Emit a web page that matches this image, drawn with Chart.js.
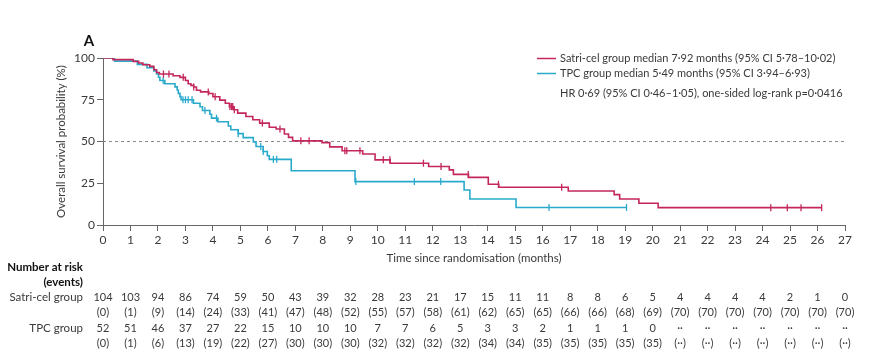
<!DOCTYPE html>
<html>
<head>
<meta charset="utf-8">
<script src="https://cdn.jsdelivr.net/npm/chart.js@4.4.1/dist/chart.umd.min.js"></script>
<style>
  html, body { margin: 0; padding: 0; background: #fff; }
  #wrap { width: 869px; height: 359px; }
</style>
</head>
<body>
<div id="wrap"><canvas id="km" width="869" height="359"></canvas></div>
<script>
// Kaplan-Meier steps (time in months, survival %)
var satriTimes = [0, 0.36, 1.1, 1.3, 1.45, 1.7, 1.85, 1.95, 2.05, 2.55, 2.8, 3.0, 3.1, 3.2, 3.3, 3.4, 3.55, 3.85, 4.0, 4.25, 4.45, 4.6, 4.75, 4.9, 5.2, 5.45, 5.7, 6.05, 6.3, 6.6, 6.75, 6.9, 7.97, 8.25, 8.7, 9.45, 9.9, 10.45, 11.85, 12.6, 12.75, 13.3, 14.02, 14.4, 16.93, 18.6, 18.8, 19.5, 20.2, 26.15];
var satriSurv  = [100, 99.0, 98.0, 97.0, 96.0, 95.0, 93.0, 91.3, 90.4, 89.4, 88.4, 86.5, 84.6, 83.6, 82.6, 80.7, 79.7, 78.7, 76.8, 74.8, 72.9, 70.9, 69.0, 67.0, 65.0, 63.0, 61.0, 58.5, 57.5, 54.5, 52.5, 50.4, 49.3, 46.8, 44.5, 42.5, 39.0, 37.0, 35.0, 33.0, 30.3, 28.5, 24.4, 22.6, 20.4, 18.2, 15.6, 13.0, 10.4, 10.4];
var satriCensor = [2.2, 2.4, 2.92, 3.3, 3.83, 4.08, 4.62, 4.68, 4.72, 4.78, 5.8, 6.44, 7.2, 7.5, 8.8, 8.87, 9.35, 10.2, 10.44, 11.66, 12.3, 13.29, 14.39, 16.69, 24.3, 24.9, 25.4, 26.15];

var tpcTimes = [0, 0.42, 1.25, 1.6, 1.85, 1.95, 2.02, 2.07, 2.25, 2.62, 2.7, 2.74, 2.8, 2.84, 3.29, 3.53, 3.62, 3.89, 3.95, 4.18, 4.56, 4.65, 4.92, 5.1, 5.47, 5.57, 5.83, 5.98, 6.05, 6.85, 9.17, 13.14, 13.35, 15.03, 19.05];
var tpcSurv  = [100, 98.1, 96.2, 94.2, 92.3, 90.4, 88.5, 86.5, 84.6, 82.7, 80.8, 78.8, 76.9, 75.0, 72.9, 70.8, 68.6, 66.3, 64.0, 61.8, 59.3, 57.0, 54.7, 52.3, 49.8, 47.0, 44.0, 41.5, 39.3, 32.5, 26.0, 21.0, 15.6, 10.5, 10.5];
var tpcCensor = [2.19, 2.91, 3.0, 3.1, 3.24, 3.71, 4.13, 4.92, 5.74, 5.83, 6.2, 6.32, 9.2, 11.33, 12.29, 16.23, 19.05];

// number at risk table
var riskMonths = [0,1,2,3,4,5,6,7,8,9,10,11,12,13,14,15,16,17,18,19,20,21,22,23,24,25,26,27];
var satriRisk   = [104,103,94,86,74,59,50,43,39,32,28,23,21,17,15,11,11,8,8,6,5,4,4,4,4,2,1,0];
var satriEvents = [0,1,9,14,24,33,41,47,48,52,55,57,58,61,62,65,65,66,66,68,69,70,70,70,70,70,70,70];
var tpcRisk     = [52,51,46,37,27,22,15,10,10,10,7,7,6,5,3,3,2,1,1,1,0,'··','··','··','··','··','··','··'];
var tpcEvents   = [0,1,6,13,19,22,27,30,30,30,32,32,32,32,34,34,35,35,35,35,35,'··','··','··','··','··','··','··'];

var legendLabels = ['Satri-cel group median 7·92 months (95% CI 5·78–10·02)', 'TPC group median 5·49 months (95% CI 3·94–6·93)'];
var hrText = 'HR 0·69 (95% CI 0·46–1·05), one-sided log-rank p=0·0416';

var RED = '#c4285a';
var BLUE = '#2aaacb';
var TXT = '#3a3a3a';
var FONT = 'Lato';

// value of step curve at time t
function survAt(times, surv, t) {
    var v = surv[0];
    for (var i = 0; i < times.length; i++) {
        if (times[i] <= t) v = surv[i];
    }
    return v;
}

function toPoints(times, surv) {
    return times.map(function(t, i) { return {x: t, y: surv[i]}; });
}

function censorPoints(cens, times, surv) {
    return cens.map(function(t) { return {x: t, y: survAt(times, surv, t)}; });
}

Chart.defaults.font.family = FONT;
Chart.defaults.color = TXT;

var extras = {
    id: 'extras',
    afterDraw: function(chart) {
        var ctx = chart.ctx;
        var xs = chart.scales.x;
        ctx.save();

        // panel letter
        ctx.fillStyle = '#111';
        ctx.font = 'bold 15px ' + FONT;
        ctx.textAlign = 'center';
        ctx.textBaseline = 'middle';
        ctx.fillText('A', 89, 41);

        // legend
        ctx.font = '11px ' + FONT;
        ctx.textAlign = 'left';
        ctx.fillStyle = TXT;
        var cols = [RED, BLUE];
        var ys = [58.5, 73.5];
        for (var i = 0; i < legendLabels.length; i++) {
            ctx.strokeStyle = cols[i];
            ctx.lineWidth = 1.5;
            ctx.beginPath();
            ctx.moveTo(537, ys[i]);
            ctx.lineTo(556, ys[i]);
            ctx.stroke();
            ctx.fillText(legendLabels[i], 560, ys[i]);
        }
        ctx.fillText(hrText, 560, 93);

        // number at risk
        ctx.textAlign = 'right';
        ctx.font = 'bold 11.5px ' + FONT;
        ctx.fillStyle = '#111';
        ctx.fillText('Number at risk', 83, 267);
        ctx.fillText('(events)', 83, 282);
        ctx.font = '11.5px ' + FONT;
        ctx.fillStyle = TXT;
        ctx.fillText('Satri-cel group', 83, 297);
        ctx.fillText('TPC group', 83, 328);

        ctx.textAlign = 'center';
        ctx.font = '11px ' + FONT;
        riskMonths.forEach(function(m, i) {
            var x = xs.getPixelForValue(m);
            ctx.fillText(String(satriRisk[i]), x, 297);
            ctx.fillText('(' + satriEvents[i] + ')', x, 312.5);
            ctx.fillText(String(tpcRisk[i]), x, 328);
            ctx.fillText('(' + tpcEvents[i] + ')', x, 343.5);
        });
        ctx.restore();
    }
};

var ctx = document.getElementById('km').getContext('2d');
var kmChart = new Chart(ctx, {
    type: 'line',
    data: {
        datasets: [{
            label: 'Satri-cel group',
            data: toPoints(satriTimes, satriSurv),
            stepped: 'before',
            borderColor: RED,
            borderWidth: 1.6,
            pointRadius: 0,
            fill: false
        }, {
            label: 'TPC group',
            data: toPoints(tpcTimes, tpcSurv),
            stepped: 'before',
            borderColor: BLUE,
            borderWidth: 1.6,
            pointRadius: 0,
            fill: false
        }, {
            type: 'scatter',
            label: 'Satri-cel censored',
            data: censorPoints(satriCensor, satriTimes, satriSurv),
            showLine: false,
            pointStyle: 'line',
            rotation: 90,
            pointRadius: 3.5,
            borderColor: RED,
            backgroundColor: RED,
            borderWidth: 1.3
        }, {
            type: 'scatter',
            label: 'TPC censored',
            data: censorPoints(tpcCensor, tpcTimes, tpcSurv),
            showLine: false,
            pointStyle: 'line',
            rotation: 90,
            pointRadius: 3.5,
            borderColor: BLUE,
            backgroundColor: BLUE,
            borderWidth: 1.3
        }, {
            label: 'median',
            data: [{x: 0, y: 50}, {x: 27, y: 50}],
            borderColor: '#8a8a8a',
            borderWidth: 1,
            borderDash: [3, 3],
            pointRadius: 0,
            fill: false
        }]
    },
    options: {
        responsive: false,
        animation: false,
        layout: { padding: { left: 50, right: 24, top: 58, bottom: 90 } },
        plugins: {
            legend: { display: false },
            tooltip: { enabled: false }
        },
        scales: {
            x: {
                type: 'linear',
                min: 0,
                max: 27,
                afterFit: function(scale) { scale.height = 44; },
                ticks: { stepSize: 1, autoSkip: false, maxRotation: 0, padding: 2, font: { size: 12 }, color: TXT },
                grid: { drawOnChartArea: false, drawTicks: true, tickLength: 6, color: '#666' },
                border: { color: '#666', width: 1 },
                title: { display: true, text: 'Time since randomisation (months)', font: { size: 11.5 }, color: TXT }
            },
            y: {
                min: 0,
                max: 100,
                afterFit: function(scale) { scale.width = 53; },
                ticks: { stepSize: 25, padding: 2, font: { size: 12 }, color: TXT },
                grid: { drawOnChartArea: false, drawTicks: true, tickLength: 6, color: '#666' },
                border: { color: '#666', width: 1 },
                title: { display: true, text: 'Overall survival probability (%)', font: { size: 11.5 }, color: TXT }
            }
        }
    },
    plugins: [extras]
});
</script>
</body>
</html>
